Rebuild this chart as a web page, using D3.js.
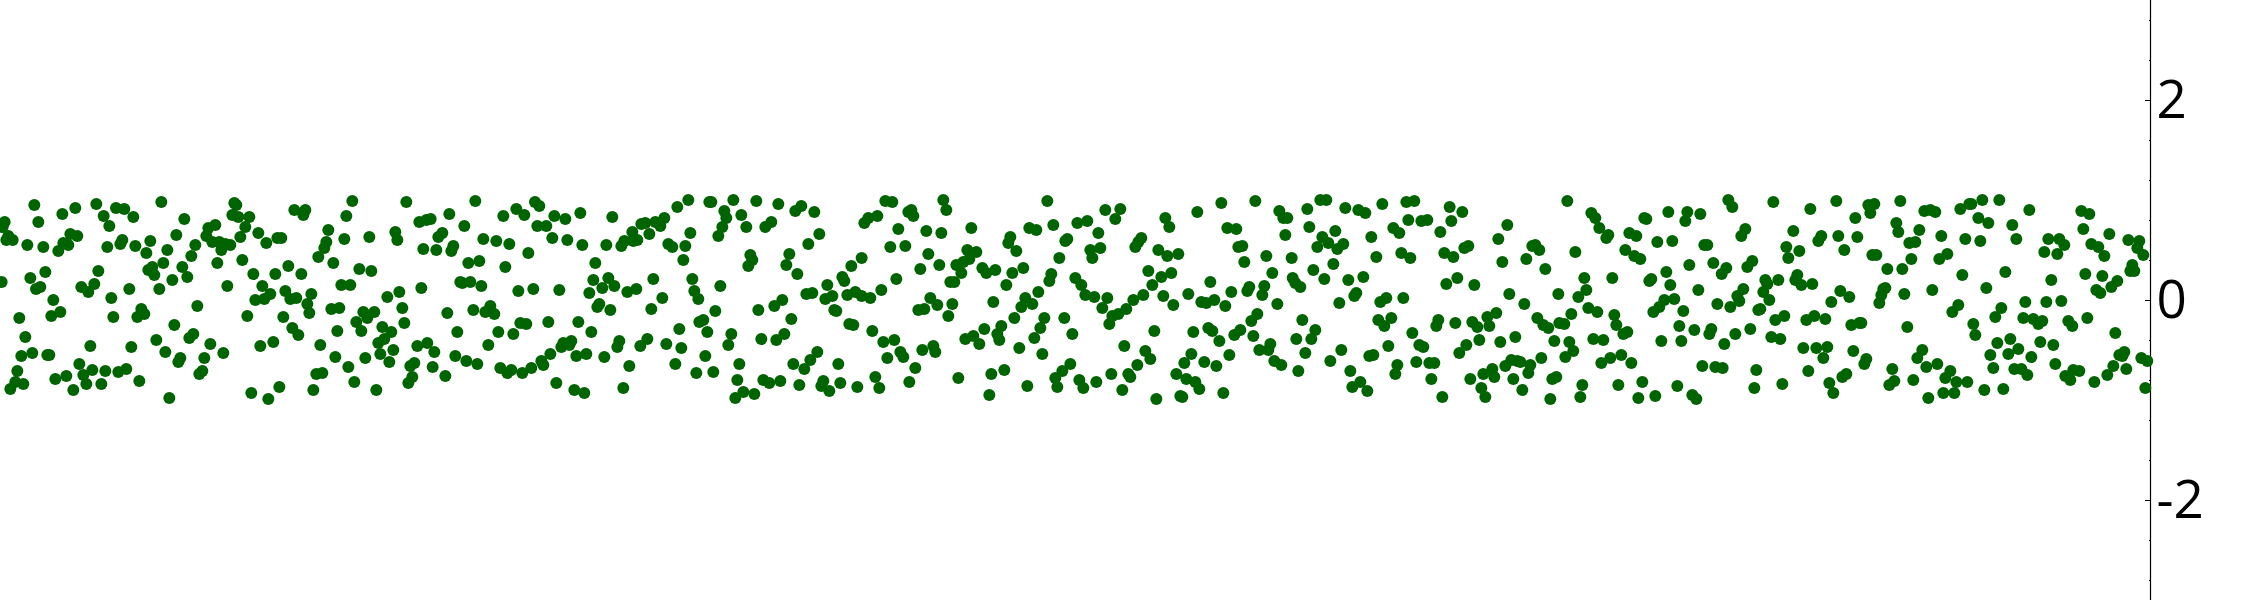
<!DOCTYPE html>
<html><head><meta charset="utf-8">
<script src="https://cdn.jsdelivr.net/npm/d3@7"></script>
<style>html,body{margin:0;padding:0;background:#fff;overflow:hidden}svg{display:block}</style>
</head><body><div id="chart"></div>
<script>
// [position within segment, value]
const segmentA=[[103,.95],[187,.86],[226,.92],[289,.96],[311,.84],[348,.92],[373,.91],[400,.83],[328,.74],[484,.98],[115,.78],[14,.78],[8,.73],[25,.64],[19,.6],[38,.6],[82,.55],[130,.53],[175,.49],[190,.57],[205,.55],[211,.66],[232,.64],[322,.53],[361,.56],[367,.6],[406,.54],[439,.47],[451,.59],[502,.5],[529,.65],[553,.81],[586,.55],[574,.44],[490,.37],[547,.33],[562,.23],[517,.2],[478,.11],[457,.33],[445,.3],[463,.25],[652,.37],[727,.4],[646,.75],[625,.72],[619,.64],[637,.58],[658,.58],[676,.56],[691,.55],[664,.5],[721,.63],[736,.73],[715,.83],[697,.85],[748,.83],[703,.97],[709,.95],[775,.67],[799,.57],[832,.62],[844,.62],[883,.9],[916,.9],[910,.85],[985,.7],[1039,.84],[1057,.99],[1219,.98],[1258,.78],[1279,.8],[1186,.68],[1192,.6],[1108,.63],[1033,.61],[979,.58],[973,.52],[955,.43],[1000,.37],[1270,.51],[1078,.31],[1114,.29],[865,.34],[826,.26],[904,.26],[760,.26],[787,.14],[682,.14],[5,.18],[91,.22],[136,.28],[295,.29],[283,.16],[244,.13],[265,.08],[121,.13],[108,.11],[388,.11],[334,.02],[160,0],[592,-.06],[58,-.18],[154,-.16],[181,-.12],[340,-.17],[424,-.09],[433,-.14],[412,-.17],[742,-.16],[766,0],[793,.01],[811,.06],[856,.09],[871,.01],[889,.02],[934,.06],[922,-.04],[928,-.13],[850,-.17],[877,-.28],[895,-.35],[994,-.09],[1018,-.08],[1024,.15],[1051,.15],[1162,.03],[1198,.08],[1264,.12],[1207,-.08],[1090,-.12],[1123,-.12],[1102,-.18],[1069,-.22],[1084,-.31],[1012,-.31],[1147,-.27],[1174,-.32],[1213,-.23],[1153,-.39],[1135,-.43],[76,-.37],[271,-.46],[394,-.47],[523,-.25],[469,-.4],[568,-.38],[580,-.34],[631,-.44],[496,-.52],[670,-.53],[613,-.58],[541,-.58],[535,-.62],[781,-.46],[820,-.42],[961,-.45],[1006,-.57],[1096,-.58],[1141,-.54],[1180,-.5],[1252,-.46],[1282,-.43],[1168,-.62],[1045,-.67],[64,-.56],[97,-.53],[142,-.55],[148,-.55],[238,-.64],[52,-.71],[277,-.7],[250,-.75],[316,-.71],[355,-.72],[379,-.69],[199,-.76],[166,-.79],[46,-.82],[70,-.84],[31,-.89],[259,-.84],[304,-.84],[220,-.9],[418,-.81],[508,-.98],[607,-.71],[598,-.74],[754,-.93],[805,-.99],[838,-.87],[940,-.9],[949,-.74],[967,-.73],[1063,-.82],[1129,-.9],[1225,-.83],[1237,-.77],[1231,-.66],[1243,-.63]];
const segmentB=[[136,.99],[315,.98],[328,.94],[259,.91],[283,.85],[220,.84],[58,.86],[2,.81],[373,.84],[406,.81],[451,.87],[547,.83],[103,.74],[322,.74],[349,.74],[37,.67],[25,.63],[160,.61],[199,.59],[238,.56],[367,.62],[412,.6],[457,.55],[19,.5],[70,.54],[64,.49],[295,.47],[529,.55],[115,.37],[148,.39],[226,.33],[496,.37],[742,.93],[775,1],[838,.98],[844,.98],[910,1],[979,.99],[1045,.96],[1096,.89],[1114,.94],[1153,.88],[883,.89],[889,.82],[934,.85],[877,.73],[949,.73],[865,.64],[1006,.73],[1024,.78],[703,.82],[676,.78],[691,.74],[646,.77],[634,.76],[607,.68],[658,.66],[622,.6],[610,.59],[583,.59],[574,.54],[781,.67],[715,.56],[727,.53],[766,.54],[760,.4],[1168,.66],[1135,.56],[961,.45],[967,.4],[955,.34],[1078,.46],[1069,.35],[1102,.26],[1264,.34],[1237,.23],[1243,.19],[1192,.15],[1129,.06],[1147,.07],[1252,.05],[1276,.08],[1186,.01],[1207,.04],[1213,-.1],[1219,-.11],[1258,-.24],[1270,-.25],[91,.18],[97,.17],[121,.18],[154,.14],[265,.09],[310,.11],[388,.1],[490,.2],[535,.22],[517,.12],[553,.14],[478,.07],[592,.08],[619,.11],[670,.21],[697,.02],[664,-.09],[787,.21],[793,.09],[805,.01],[871,.14],[856,-.11],[985,-.1],[1033,-.06],[1057,0],[1084,-.19],[508,-.04],[502,-.07],[541,-.1],[52,-.13],[130,-.1],[181,-.06],[166,-.12],[193,-.14],[271,-.23],[289,-.24],[355,-.22],[445,-.22],[484,-.32],[82,-.32],[205,-.32],[250,-.34],[175,-.45],[748,-.29],[820,-.2],[808,-.22],[832,-.32],[904,-.34],[895,-.45],[994,-.39],[1039,-.4],[1063,-.34],[400,-.43],[424,-.41],[418,-.45],[394,-.47],[568,-.41],[562,-.47],[652,-.39],[631,-.46],[709,-.44],[754,-.48],[13,-.52],[76,-.56],[109,-.61],[142,-.64],[8,-.67],[46,-.76],[361,-.54],[334,-.61],[340,-.65],[304,-.68],[277,-.73],[244,-.7],[232,-.73],[211,-.68],[439,-.56],[469,-.54],[523,-.57],[598,-.66],[736,-.64],[826,-.56],[799,-.73],[850,-.72],[928,-.64],[922,-.8],[1162,-.52],[1141,-.6],[1123,-.69],[1090,-.64],[1225,-.64],[379,-.83],[433,-.9],[463,-.93],[580,-.88],[940,-.92],[973,-.94],[916,-.98],[1000,-.8],[1018,-.83],[1051,-.81],[1108,-.85],[1180,-.81],[1174,-.86],[1198,-.91],[1231,-.83],[1282,-.87]];
const segmentC=[[76,.99],[97,.98],[250,1],[259,.9],[145,.88],[154,.9],[160,.84],[52,.84],[25,.82],[13,.77],[115,.71],[199,.69],[244,.67],[334,.72],[562,.99],[580,.75],[508,.72],[529,.7],[652,.77],[682,.79],[736,.9],[781,.91],[766,.81],[715,.67],[916,.82],[928,.73],[1012,.88],[1084,.97],[1186,.99],[1258,.89],[1270,.82],[1282,.82],[1102,.72],[1129,.71],[1276,.65],[451,.63],[445,.57],[469,.49],[91,.53],[136,.54],[205,.46],[5,.42],[322,.5],[349,.48],[328,.41],[310,.38],[289,.35],[238,.35],[181,.31],[304,.27],[367,.32],[379,.27],[406,.3],[457,.27],[490,.32],[622,.61],[616,.59],[598,.42],[691,.5],[721,.52],[697,.42],[844,.62],[835,.58],[826,.53],[895,.5],[922,.44],[955,.46],[1135,.53],[1147,.54],[1219,.44],[1153,.38],[1237,.27],[865,.29],[934,.27],[904,.23],[877,.15],[646,.22],[664,.15],[574,.26],[568,.19],[439,.15],[109,.21],[271,.18],[283,.18],[64,.1],[5,.04],[31,.02],[211,.02],[277,-.04],[232,-.05],[193,-.09],[175,-.1],[265,-.16],[400,-.02],[535,.08],[496,.02],[517,-.04],[484,-.07],[463,-.18],[676,.05],[703,.03],[742,.02],[727,-.08],[850,.05],[820,0],[799,-.09],[775,-.14],[757,-.16],[748,-.24],[910,.04],[940,-.05],[985,.06],[1024,-.02],[1039,-.03],[1063,0],[1096,-.06],[1051,.18],[1114,.08],[1162,.09],[1168,.13],[1207,.05],[1213,.14],[1252,-.04],[553,-.18],[613,-.18],[424,-.26],[373,-.29],[412,-.34],[418,-.4],[340,-.36],[316,-.39],[358,-.44],[541,-.28],[523,-.38],[637,-.34],[37,-.31],[70,-.42],[103,-.4],[121,-.52],[130,-.57],[82,-.58],[187,-.5],[220,-.46],[226,-.52],[478,-.48],[547,-.54],[883,-.31],[793,-.46],[856,-.51],[871,-.59],[832,-.65],[1000,-.32],[1045,-.28],[1057,-.31],[1078,-.41],[1123,-.35],[1141,-.3],[1174,-.21],[1192,-.14],[1180,-.36],[1198,-.5],[1225,-.5],[1231,-.44],[994,-.54],[973,-.63],[1033,-.62],[1069,-.66],[1108,-.55],[1243,-.61],[1264,-.65],[166,-.68],[46,-.77],[58,-.88],[148,-.82],[295,-.78],[394,-.74],[433,-.7],[388,-.95],[502,-.86],[631,-.64],[607,-.71],[586,-.78],[592,-.87],[658,-.8],[670,-.88],[709,-.82],[754,-.74],[805,-.74],[811,-.77],[787,-.9],[889,-.99],[949,-.74],[979,-.79],[1006,-.82],[1018,-.89],[961,-.96],[967,-.97],[1090,-.93]];
const segmentD=[[91,1],[109,1],[52,.91],[166,.92],[205,.9],[226,.87],[277,.96],[349,.98],[373,.99],[479,.93],[517,.88],[58,.73],[136,.69],[97,.63],[115,.57],[82,.53],[160,.56],[142,.51],[244,.63],[310,.72],[328,.67],[355,.8],[394,.79],[412,.8],[484,.79],[451,.68],[652,.75],[625,.61],[832,.99],[904,.87],[916,.82],[928,.72],[955,.65],[949,.62],[1018,.67],[1039,.64],[1063,.82],[1069,.81],[1135,.88],[1192,.88],[1186,.79],[1231,.86],[1102,.58],[1147,.59],[1243,.55],[1252,.55],[727,.54],[736,.55],[748,.5],[856,.48],[1006,.5],[1033,.44],[1051,.41],[1198,.35],[1270,.37],[5,.42],[259,.43],[334,.47],[361,.42],[463,.47],[490,.43],[523,.52],[535,.54],[637,.38],[709,.41],[766,.31],[130,.36],[70,.3],[103,.21],[175,.2],[220,.23],[8,.22],[16,.17],[31,.13],[469,.16],[502,.22],[553,.15],[883,.22],[967,.22],[1078,.19],[1084,.21],[1129,.28],[1141,.15],[1225,.1],[889,.1],[865,.03],[805,.06],[658,.06],[703,-.04],[199,.07],[193,.04],[148,-.03],[271,-.02],[289,.02],[340,.02],[1123,0],[1108,-.07],[1090,-.12],[1153,.01],[1180,-.11],[1282,-.04],[37,-.2],[76,-.3],[64,-.39],[19,-.39],[46,-.53],[265,-.2],[304,-.18],[283,-.26],[445,-.2],[439,-.26],[367,-.33],[496,-.23],[547,-.22],[562,-.27],[592,-.17],[619,-.13],[598,-.26],[742,-.18],[760,-.25],[775,-.28],[808,-.23],[823,-.24],[844,-.14],[895,-.08],[922,-.12],[973,-.15],[979,-.25],[1000,-.34],[1012,-.32],[1168,-.26],[1213,-.3],[1264,-.29],[1258,-.34],[1174,-.41],[1114,-.41],[568,-.4],[631,-.42],[676,-.37],[529,-.45],[508,-.53],[388,-.45],[400,-.47],[295,-.46],[154,-.5],[121,-.61],[238,-.56],[250,-.55],[793,-.41],[838,-.42],[850,-.51],[826,-.57],[910,-.39],[940,-.4],[994,-.55],[961,-.58],[934,-.63],[1024,-.63],[754,-.58],[322,-.65],[316,-.74],[379,-.62],[418,-.63],[433,-.63],[25,-.71],[181,-.71],[211,-.82],[187,-.87],[232,-.91],[424,-.79],[457,-.97],[541,-.79],[580,-.74],[607,-.69],[613,-.77],[574,-.88],[586,-.97],[646,-.66],[664,-.6],[682,-.61],[691,-.62],[721,-.65],[715,-.73],[670,-.79],[697,-.9],[787,-.79],[799,-.77],[781,-.99],[877,-.85],[871,-.97],[985,-.85],[1057,-.82],[1045,-.98],[1096,-.96],[1162,-.86],[1207,-.95],[1219,-.99],[1237,-.66],[1276,-.67]];
const segmentE=[[25,1],[37,.93],[160,.98],[271,.91],[349,.99],[445,.95],[463,.96],[451,.87],[406,.82],[541,.99],[613,.89],[631,.9],[646,.88],[721,.91],[748,.96],[754,.96],[787,1],[838,1],[928,.9],[775,.82],[805,.77],[877,.75],[1084,.89],[1108,.86],[1090,.71],[1168,.66],[529,.77],[535,.68],[598,.7],[76,.71],[64,.64],[220,.69],[304,.64],[295,.59],[355,.64],[412,.63],[664,.64],[736,.61],[781,.59],[889,.61],[985,.61],[1018,.61],[1033,.55],[1225,.6],[1258,.59],[1252,.52],[1270,.45],[1114,.56],[1135,.53],[1153,.44],[973,.48],[1012,.46],[199,.53],[238,.49],[205,.42],[373,.5],[457,.45],[469,.45],[568,.57],[586,.58],[574,.41],[658,.41],[682,.46],[19,.32],[5,.26],[97,.39],[82,.33],[502,.31],[547,.31],[727,.25],[856,.28],[1096,.26],[1147,.24],[1237,.35],[1231,.29],[1243,.29],[994,.2],[1192,.19],[1174,.13],[1129,.1],[1141,.07],[136,.2],[175,.2],[232,.25],[226,.2],[244,.15],[277,.16],[142,.16],[70,.11],[130,.08],[52,.04],[58,-.01],[148,0],[496,.12],[490,.11],[484,.05],[478,-.03],[553,.06],[637,.1],[799,.12],[361,.09],[388,.03],[334,-.02],[31,-.07],[115,-.1],[121,-.09],[715,-.05],[697,-.12],[844,-.08],[826,-.17],[916,-.02],[979,-.02],[1024,-.01],[910,-.18],[940,-.19],[955,-.24],[967,-.21],[193,-.16],[166,-.2],[259,-.2],[283,-.16],[316,-.19],[394,-.25],[418,-.23],[424,-.23],[562,-.27],[760,-.24],[1045,-.21],[1057,-.26],[1102,-.18],[91,-.29],[46,-.34],[13,-.44],[154,-.37],[181,-.39],[766,-.35],[1186,-.33],[871,-.39],[832,-.43],[961,-.42],[1000,-.45],[895,-.49],[865,-.54],[811,-.55],[934,-.57],[250,-.48],[289,-.48],[322,-.47],[310,-.58],[400,-.51],[439,-.59],[433,-.64],[607,-.5],[592,-.58],[619,-.67],[652,-.64],[1198,-.55],[1213,-.52],[1207,-.56],[1264,-.58],[1282,-.61],[8,-.68],[109,-.7],[265,-.71],[517,-.69],[691,-.71],[676,-.78],[820,-.68],[883,-.69],[904,-.69],[922,-.75],[1006,-.64],[1060,-.7],[1078,-.71],[1036,-.76],[1051,-.8],[1180,-.66],[1219,-.69],[1162,-.75],[1123,-.82],[379,-.74],[367,-.77],[328,-.83],[340,-.93],[187,-.84],[103,-.88],[523,-.81],[508,-.85],[580,-.8],[709,-.82],[742,-.82],[670,-.93],[703,-.93],[625,-.98],[793,-.9],[850,-.89],[1276,-.88]];
const segments=[segmentA,segmentB,segmentC,segmentD,segmentE];
const segmentSpan=1290;
const yMajorTicks=[-2,0,2];
const yMinorTicks=[-2.8,-2.4,-1.6,-1.2,-0.8,-0.4,0.4,0.8,1.2,1.6,2.4,2.8];

const W=2250,H=600,axisX=2150.5;
const x=d3.scaleLinear().domain([0,segmentSpan*5]).range([0,2150]);
const y=d3.scaleLinear().domain([3,-3]).range([0,600]);
const points=segments.flatMap((seg,i)=>seg.map(([p,v])=>({p:p+i*segmentSpan,v})));

const svg=d3.select("#chart").append("svg").attr("width",W).attr("height",H);
const gAxis=svg.append("g").attr("transform",`translate(${axisX},0)`);
gAxis.append("line").attr("y1",0).attr("y2",H).attr("stroke","#000").attr("stroke-width",1.2);
gAxis.selectAll("line.minor").data(yMinorTicks).join("line").attr("class","minor")
  .attr("x1",-1.5).attr("x2",0).attr("y1",d=>Math.round(y(d))+.5).attr("y2",d=>Math.round(y(d))+.5)
  .attr("stroke","#000").attr("stroke-width",1);
gAxis.selectAll("line.major").data(yMajorTicks).join("line").attr("class","major")
  .attr("x1",-5.5).attr("x2",0).attr("y1",d=>Math.round(y(d))+.5).attr("y2",d=>Math.round(y(d))+.5)
  .attr("stroke","#000").attr("stroke-width",1);
gAxis.selectAll("text").data(yMajorTicks).join("text")
  .attr("x",6).attr("y",d=>y(d)).attr("dy","0.34em")
  .attr("font-family","'Open Sans','Noto Sans',sans-serif").attr("font-size",53).attr("fill","#000")
  .text(d=>d3.format("d")(d).replace("\u2212","-"));

svg.append("g").selectAll("circle").data(points).join("circle")
  .attr("cx",d=>x(d.p)).attr("cy",d=>y(d.v)).attr("r",6).attr("fill","#006400");
</script></body></html>
